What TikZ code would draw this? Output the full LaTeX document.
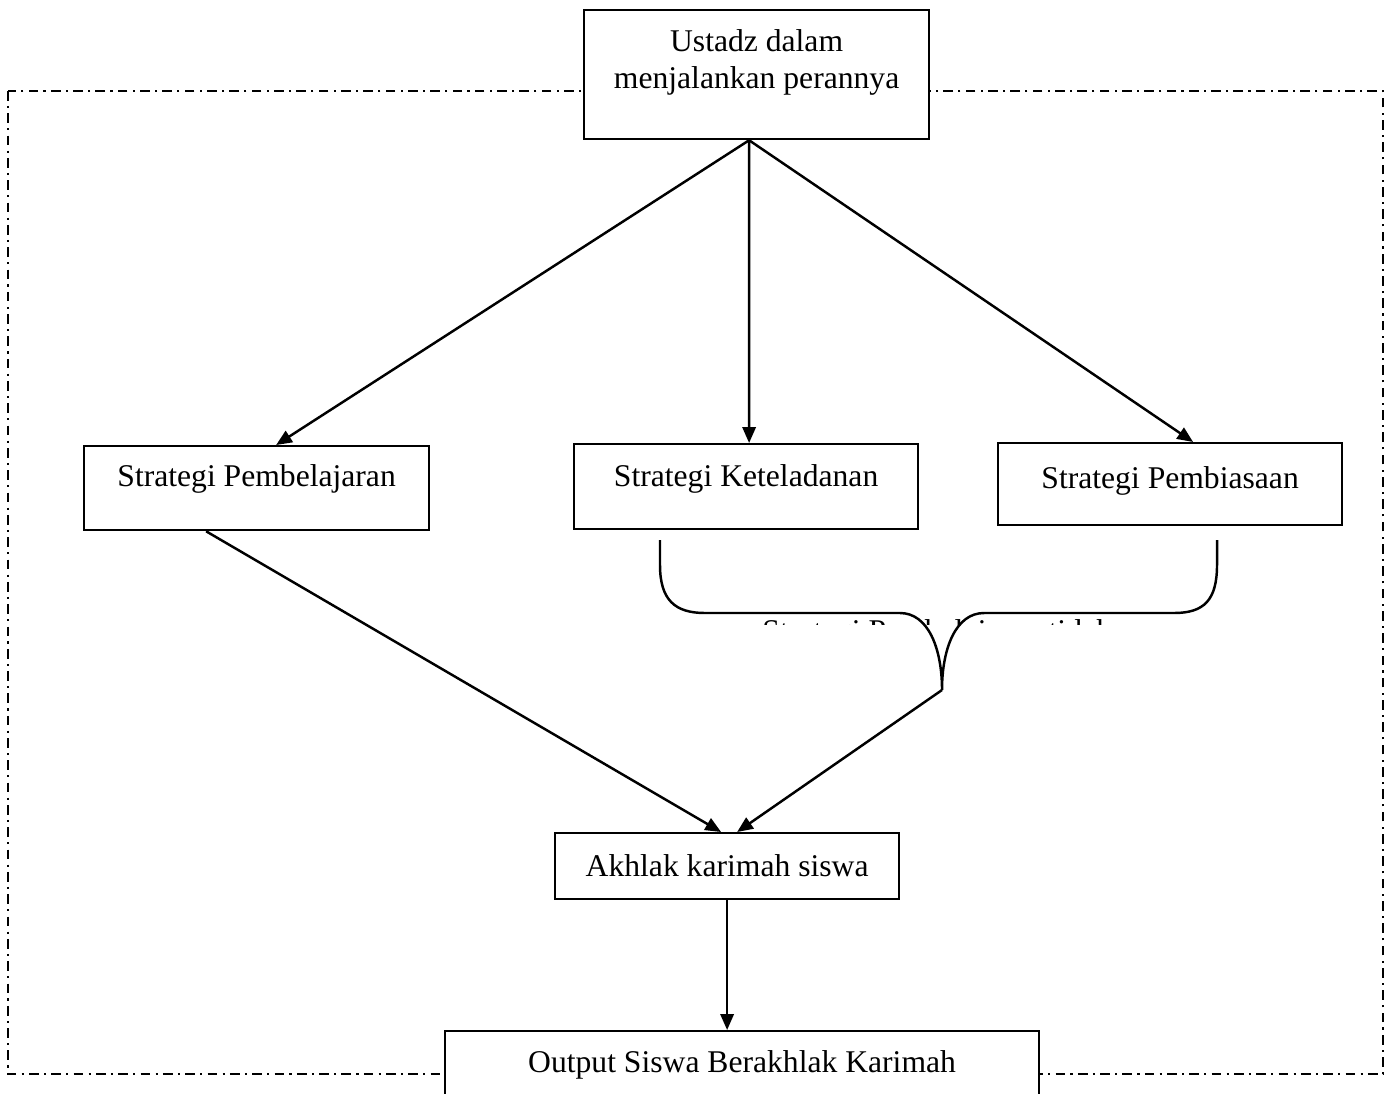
\documentclass[tikz,border=0pt]{standalone}
\usepackage{fontspec}
\setmainfont{Liberation Serif}
\usetikzlibrary{arrows.meta, positioning, calc}

\begin{document}
\begin{tikzpicture}
  [x=0.02cm, y=-0.02cm,
    > = {Triangle[length=9pt, width=7.5pt]},
    font=\fontsize{18}{21.5}\selectfont,
    box/.style ={
        rectangle,
        draw=black,
        line width=1.3pt,
        fill=white,
        inner sep=0pt,
        anchor=north west,
        minimum width=6.9cm,
      },
    link/.style={->, line width=1.4pt},
    frame/.style={line width=1pt, dash pattern=on 5.5pt off 3pt on 1.2pt off 3pt},
  ]
  \useasboundingbox (0,0) rectangle (1391,1093);
  \clip (0,0) rectangle (1391,1093);

  \draw[frame] (8,91) rectangle (1383,1074);

  \node[box, text height=0.82cm, text depth=1.76cm] (ustadz) at (583,9) {\parbox[t]{6.9cm}{\centering Ustadz dalam\\menjalankan perannya}};

  \node[box, text height=0.8cm, text depth=0.88cm] (pembelajaran) at (83,445) {Strategi Pembelajaran};
  \node[box, text height=0.84cm, text depth=0.86cm, minimum width=6.88cm] (keteladanan) at (573,443) {Strategi Keteladanan};
  \node[box, text height=0.9cm, text depth=0.74cm, minimum width=6.88cm] (pembiasaan) at (997,442) {Strategi Pembiasaan};

  \node[box, text height=0.86cm, text depth=0.46cm, minimum width=6.88cm] (akhlak) at (554,832) {Akhlak karimah siswa};
  \node[box, text height=0.82cm, text depth=1.2cm, minimum width=11.88cm] (output) at (444,1030) {Output Siswa Berakhlak Karimah};

  \draw[link] ([xshift=-0.15cm]ustadz.south) -- ([xshift=0.39cm]pembelajaran.north);
  \draw[link] ([xshift=-0.15cm]ustadz.south) -- ([xshift=0.06cm]keteladanan.north);
  \draw[link] ([xshift=-0.15cm]ustadz.south) -- ([xshift=0.46cm]pembiasaan.north);

  % text under the brace, mostly hidden
  \begin{scope}
    \clip (740,614.5) rectangle (1112,624);
    \node[anchor=base west, inner sep=0pt] (indirect) at (762,641) {Strategi Pembelajaran tidak langsung};
  \end{scope}

  \coordinate (tip) at (942,690);
  \draw[line width=1.4pt] (660,540) -- (660,565) .. controls (660,600) and (675,613) .. (705,613) -- (900,613)
    .. controls (928,613) and (942,648) .. (tip) .. controls (942,648) and (956,613) .. (984,613) -- (1174,613)
    .. controls (1204,613) and (1217,600) .. (1217,565) -- (1217,540);

  \draw[link] ([xshift=-1.01cm]pembelajaran.south) -- ([xshift=-0.12cm]akhlak.north);
  \draw[link] (tip) -- ([xshift=0.2cm]akhlak.north);
  \draw[link] (akhlak.south) -- (akhlak.south |- output.north);
\end{tikzpicture}
\end{document}
